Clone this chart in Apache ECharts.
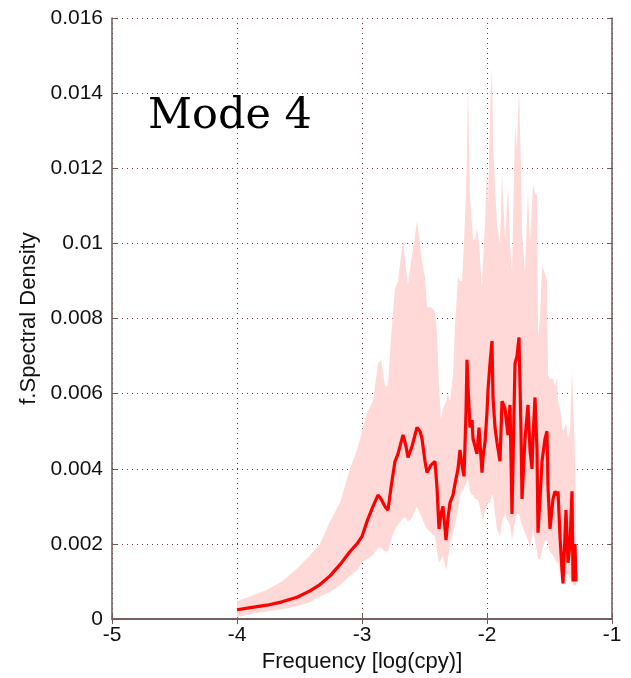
<!DOCTYPE html>
<html><head><meta charset="utf-8">
<script src="https://cdn.jsdelivr.net/npm/echarts@6/dist/echarts.min.js"></script>
<style>html,body{margin:0;padding:0;background:#fff}#c{width:631px;height:678px}</style>
</head><body><div id="c"></div>
<script>
const freq = [-4.000,-3.880,-3.760,-3.640,-3.520,-3.416,-3.336,-3.256,-3.176,-3.096,-3.040,-3.000,-2.960,-2.912,-2.872,-2.848,-2.816,-2.792,-2.768,-2.736,-2.712,-2.672,-2.648,-2.632,-2.600,-2.576,-2.560,-2.536,-2.520,-2.496,-2.480,-2.448,-2.416,-2.400,-2.384,-2.368,-2.352,-2.328,-2.312,-2.296,-2.272,-2.256,-2.232,-2.216,-2.200,-2.184,-2.168,-2.160,-2.152,-2.136,-2.120,-2.112,-2.096,-2.080,-2.064,-2.040,-2.032,-2.016,-2.000,-1.992,-1.976,-1.960,-1.952,-1.936,-1.920,-1.896,-1.880,-1.856,-1.832,-1.816,-1.800,-1.776,-1.760,-1.744,-1.728,-1.720,-1.696,-1.672,-1.656,-1.640,-1.632,-1.616,-1.600,-1.592,-1.576,-1.560,-1.536,-1.520,-1.512,-1.496,-1.472,-1.456,-1.440,-1.432,-1.416,-1.400,-1.392,-1.368,-1.352,-1.336,-1.320,-1.312,-1.296,-1.288];
const meanDensity = [0.00025,0.00031,0.00037,0.00046,0.00058,0.00075,0.00092,0.00115,0.00145,0.00180,0.0020,0.0022,0.0026,0.0030,0.0033,0.0032,0.0030,0.0029,0.0035,0.0042,0.0044,0.0049,0.0046,0.0043,0.0046,0.0049,0.0051,0.0050,0.0048,0.0042,0.0039,0.0041,0.0042,0.0035,0.0024,0.0028,0.0030,0.0021,0.0027,0.0031,0.0033,0.0036,0.0040,0.0045,0.0041,0.0038,0.0055,0.0069,0.0062,0.0051,0.0053,0.0048,0.0046,0.0044,0.0051,0.0039,0.0043,0.0047,0.0055,0.0061,0.0068,0.0074,0.0059,0.0051,0.0047,0.0042,0.0058,0.0056,0.0049,0.0057,0.0028,0.0068,0.0070,0.0075,0.0050,0.0032,0.0048,0.0057,0.0045,0.0040,0.0048,0.0059,0.0045,0.0023,0.0032,0.0042,0.0048,0.0050,0.0035,0.0024,0.0032,0.0034,0.0033,0.0034,0.0022,0.0013,0.00095,0.0029,0.0015,0.0020,0.0034,0.0010,0.0020,0.0010];
const lowerBound = [0.00005,0.00014,0.00020,0.00026,0.00034,0.00045,0.00060,0.00072,0.00090,0.00115,0.0013,0.0015,0.0016,0.0017,0.0019,0.0019,0.0018,0.0018,0.0021,0.0024,0.0025,0.0027,0.0027,0.0026,0.0027,0.0029,0.0030,0.0028,0.0027,0.0025,0.0024,0.0023,0.0022,0.0018,0.0015,0.0016,0.0017,0.0013,0.0016,0.0020,0.0023,0.0025,0.0029,0.0033,0.0034,0.0035,0.0036,0.0037,0.0037,0.0034,0.0033,0.0033,0.0032,0.0032,0.0031,0.0027,0.0026,0.0029,0.0030,0.0031,0.0031,0.0033,0.0033,0.0028,0.0024,0.0022,0.0026,0.0028,0.0026,0.0025,0.0021,0.0026,0.0028,0.0028,0.0026,0.0025,0.0023,0.0021,0.0019,0.0022,0.0024,0.0021,0.0018,0.0016,0.0016,0.0018,0.0021,0.0021,0.0020,0.0018,0.0017,0.0016,0.0015,0.0015,0.0013,0.0010,0.0009,0.0012,0.0012,0.0011,0.0010,0.0009,0.0009,0.0009];
const upperBound = [0.00048,0.00062,0.00078,0.00100,0.00135,0.00170,0.00200,0.0026,0.0031,0.0040,0.0045,0.0050,0.0055,0.0058,0.0068,0.0069,0.0062,0.0062,0.0075,0.0088,0.0090,0.0101,0.0093,0.0089,0.0097,0.0102,0.0106,0.0100,0.0095,0.0091,0.0083,0.0083,0.0082,0.0076,0.0062,0.0053,0.0056,0.0058,0.0060,0.0058,0.0065,0.0078,0.0091,0.0090,0.0090,0.0100,0.0114,0.0125,0.0142,0.0112,0.0105,0.0101,0.0101,0.0104,0.0100,0.0088,0.0095,0.0105,0.0121,0.0110,0.0135,0.0147,0.0127,0.0115,0.0105,0.0100,0.0119,0.0101,0.0115,0.0100,0.0092,0.0131,0.0125,0.0142,0.0120,0.0103,0.0092,0.0114,0.0100,0.0110,0.0116,0.0113,0.0113,0.0075,0.0080,0.0094,0.0092,0.0090,0.0065,0.0064,0.0064,0.0062,0.0064,0.0058,0.0056,0.0052,0.0050,0.0052,0.0048,0.0050,0.0066,0.0060,0.0043,0.0030];
const xTicks = [-5,-4,-3,-2,-1];
const yTicks = [0,0.002,0.004,0.006,0.008,0.01,0.012,0.014,0.016];

const chart = echarts.init(document.getElementById('c'));
const font = 'Liberation Sans, Arial, sans-serif';
const gridLine = {show:true, lineStyle:{color:'#6a3c3c', type:[1,4], width:1}};
const frame = {show:true, lineStyle:{color:'#6e5a5a', width:1.5}};
chart.setOption({
  animation:false,
  grid:{left:112,right:19,top:18,bottom:57,containLabel:false},
  xAxis:[{
    type:'value', min:-5, max:-1, interval:1,
    name:'Frequency [log(cpy)]', nameLocation:'middle', nameGap:31,
    nameTextStyle:{fontFamily:font,fontSize:22,color:'#111'},
    axisLine:frame, axisTick:{show:true,inside:true,length:5,lineStyle:{color:'#6e5a5a'}},
    axisLabel:{fontFamily:font,fontSize:21,color:'#111',margin:6,formatter:v=>String(v)},
    splitLine:gridLine
  },{
    type:'value', position:'top', min:-5, max:-1, interval:1,
    axisLine:frame, axisTick:{show:true,inside:true,length:5,lineStyle:{color:'#6e5a5a'}},
    axisLabel:{show:false}, splitLine:{show:false}
  }],
  yAxis:[{
    type:'value', min:0, max:0.016, interval:0.002,
    name:'f.Spectral Density', nameLocation:'middle', nameGap:64,
    nameTextStyle:{fontFamily:font,fontSize:22,color:'#111'},
    axisLine:frame, axisTick:{show:true,inside:true,length:5,lineStyle:{color:'#6e5a5a'}},
    axisLabel:{fontFamily:font,fontSize:21,color:'#111',margin:9,formatter:v=>v===0?'0':String(+v.toFixed(3))},
    splitLine:gridLine
  },{
    type:'value', position:'right', min:0, max:0.016, interval:0.002,
    axisLine:frame, axisTick:{show:true,inside:true,length:5,lineStyle:{color:'#6e5a5a'}},
    axisLabel:{show:false}, splitLine:{show:false}
  }],
  series:[{
    type:'custom', xAxisIndex:0, yAxisIndex:0, z:1,
    data:[[freq[0], upperBound[0]]],
    renderItem:function(params, api){
      const pts=[];
      for(let i=0;i<freq.length;i++) pts.push(api.coord([freq[i], upperBound[i]]));
      for(let i=freq.length-1;i>=0;i--) pts.push(api.coord([freq[i], lowerBound[i]]));
      return {type:'polygon', shape:{points:pts}, style:{fill:'#ffd8d8', stroke:null}};
    }
  },{
    type:'line', xAxisIndex:0, yAxisIndex:0, z:3,
    data:freq.map((f,i)=>[f, meanDensity[i]]),
    showSymbol:false, symbol:'none',
    lineStyle:{color:'#ff0000', width:3.2}
  }],
  graphic:[{
    type:'text', left:148, top:95, z:10,
    style:{text:'Mode 4', font:'43px "DejaVu Serif", serif', fill:'#000'}
  }]
});
</script></body></html>
